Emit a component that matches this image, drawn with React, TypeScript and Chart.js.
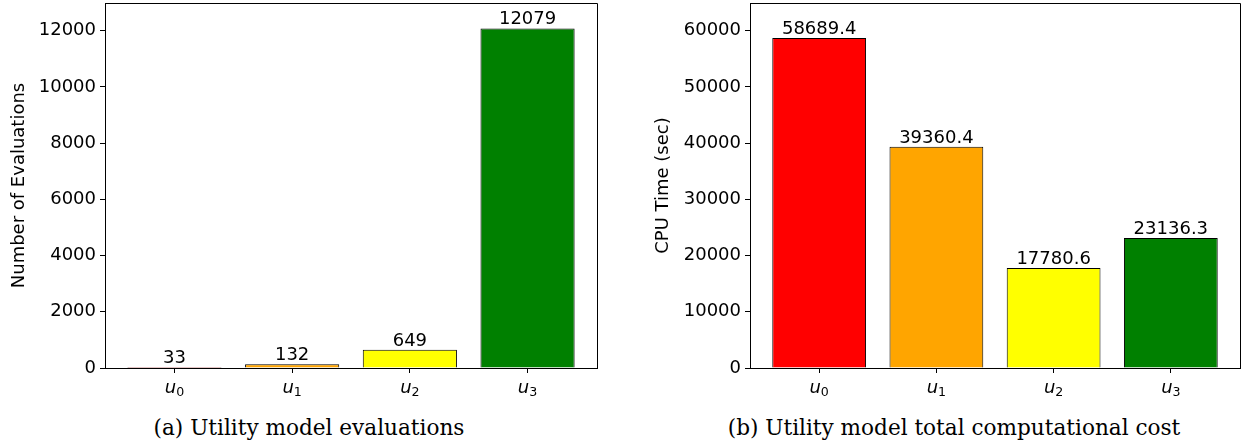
import React, { useEffect, useRef } from 'react';
import { Chart, registerables } from 'chart.js';

Chart.register(...registerables);

const categoryBase = ['u', 'u', 'u', 'u'];
const categorySubscripts = ['0', '1', '2', '3'];
const categoryPositions = [0, 1, 2, 3];
const evaluations = [33, 132, 649, 12079];
const cpuTime = [58689.4, 39360.4, 17780.6, 23136.3];
const barColors = ['#ff0000', '#ffa500', '#ffff00', '#008000'];
const evalTicks = [0, 2000, 4000, 6000, 8000, 10000, 12000];
const cpuTicks = [0, 10000, 20000, 30000, 40000, 50000, 60000];

type BarChartProps = {
  values: number[];
  yTicks: number[];
  yMax: number;
  yTitle: string;
  decimals: number;
  width: number;
  height: number;
  axisWidth: number;
  padRight: number;
  titlePad: number;
};

const FONT = 'DejaVu Sans';

function BarChart(props: BarChartProps) {
  const ref = useRef<HTMLCanvasElement | null>(null);
  useEffect(() => {
    if (!ref.current) return;
    const framePlugin = {
      id: 'frame',
      afterDraw(chart: any) {
        const { ctx, chartArea } = chart;
        ctx.save();
        ctx.strokeStyle = '#000';
        ctx.lineWidth = 1;
        ctx.beginPath();
        ctx.moveTo(chartArea.left, chartArea.top + 0.5);
        ctx.lineTo(Math.round(chartArea.right) + 0.5, chartArea.top + 0.5);
        ctx.lineTo(Math.round(chartArea.right) + 0.5, chartArea.bottom);
        ctx.stroke();
        ctx.restore();
      },
    };
    const xLabelPlugin = {
      id: 'mathLabels',
      afterDraw(chart: any) {
        const { ctx, chartArea } = chart;
        const xs = chart.scales.x;
        ctx.save();
        ctx.fillStyle = '#000';
        ctx.textBaseline = 'alphabetic';
        ctx.textAlign = 'left';
        const baseY = chartArea.bottom + 25;
        categoryPositions.forEach((p, i) => {
          const cx = xs.getPixelForValue(p);
          ctx.font = `italic 18px "${FONT}"`;
          const w1 = ctx.measureText(categoryBase[i]).width;
          ctx.font = `12.6px "${FONT}"`;
          const w2 = ctx.measureText(categorySubscripts[i]).width;
          const x0 = cx - (w1 + w2) / 2;
          ctx.font = `italic 18px "${FONT}"`;
          ctx.fillText(categoryBase[i], x0, baseY);
          ctx.font = `12.6px "${FONT}"`;
          ctx.fillText(categorySubscripts[i], x0 + w1, baseY + 2.5);
        });
        ctx.restore();
      },
    };
    const labelPlugin = {
      id: 'barLabels',
      afterDatasetsDraw(chart: any) {
        const { ctx } = chart;
        const meta = chart.getDatasetMeta(0);
        ctx.save();
        ctx.fillStyle = '#000';
        ctx.font = `18px "${FONT}"`;
        ctx.textAlign = 'center';
        ctx.textBaseline = 'alphabetic';
        meta.data.forEach((bar: any, i: number) => {
          ctx.fillText(props.values[i].toFixed(props.decimals), bar.x, bar.y - 4);
        });
        ctx.restore();
      },
    };
    const chart = new Chart(ref.current, {
      type: 'bar',
      data: {
        datasets: [
          {
            data: props.values.map((v, i) => ({ x: categoryPositions[i], y: v })),
            backgroundColor: barColors,
            borderColor: '#000',
            borderWidth: 1,
            barPercentage: 1,
            categoryPercentage: 0.8,
          },
        ],
      },
      options: {
        responsive: false,
        animation: false,
        events: [],
        layout: { padding: { top: 3, right: props.padRight, bottom: 0, left: 0 } },
        plugins: { legend: { display: false }, tooltip: { enabled: false } },
        scales: {
          x: {
            type: 'linear',
            min: -0.59,
            max: 3.59,
            offset: false,
            afterFit(scale: any) {
              scale.height = props.height - 368;
              scale.paddingLeft = 0;
              scale.paddingRight = 0;
            },
            afterBuildTicks(scale: any) {
              scale.ticks = categoryPositions.map((v) => ({ value: v }));
            },
            grid: {
              offset: false,
              drawOnChartArea: false,
              drawTicks: true,
              tickLength: 5,
              color: '#000',
            },
            border: { display: true, color: '#000', width: 1 },
            ticks: {
              color: '#000',
              padding: 4,
              autoSkip: false,
              maxRotation: 0,
              font: { family: FONT, size: 18 },
              callback: () => '',
            },
          },
          y: {
            type: 'linear',
            min: 0,
            max: props.yMax,
            afterFit(scale: any) {
              scale.width = props.axisWidth;
              scale.paddingTop = 0;
              scale.paddingBottom = 0;
            },
            afterBuildTicks(scale: any) {
              scale.ticks = props.yTicks.map((v) => ({ value: v }));
            },
            grid: {
              drawOnChartArea: false,
              drawTicks: true,
              tickLength: 5,
              color: '#000',
            },
            border: { display: true, color: '#000', width: 1 },
            ticks: {
              color: '#000',
              padding: 4,
              font: { family: FONT, size: 18 },
              callback: (v: any) => String(v),
            },
            title: {
              display: true,
              text: props.yTitle,
              color: '#000',
              font: { family: FONT, size: 18 },
              padding: { top: props.titlePad, bottom: 0 },
            },
          },
        },
      },
      plugins: [framePlugin, labelPlugin, xLabelPlugin],
    } as any);
    return () => chart.destroy();
  }, []);
  return <canvas ref={ref} width={props.width} height={props.height} style={{ display: 'block' }} />;
}

const captionStyle: React.CSSProperties = {
  position: 'absolute',
  width: 600,
  textAlign: 'center',
  fontFamily: '"DejaVu Serif", serif',
  fontSize: 21.6,
  lineHeight: '24px',
  color: '#000',
  whiteSpace: 'nowrap',
};

export default function App() {
  return (
    <div style={{ position: 'absolute', left: 0, top: 0, width: 1244, height: 446, background: '#fff' }}>
      <div style={{ position: 'absolute', left: 0, top: 0 }}>
        <BarChart
          values={evaluations}
          yTicks={evalTicks}
          yMax={12984}
          yTitle="Number of Evaluations"
          decimals={0}
          width={620}
          height={400}
          axisWidth={105}
          padRight={23}
          titlePad={9}
        />
      </div>
      <div style={{ position: 'absolute', left: 620, top: 0 }}>
        <BarChart
          values={cpuTime}
          yTicks={cpuTicks}
          yMax={64920}
          yTitle="CPU Time (sec)"
          decimals={1}
          width={624}
          height={400}
          axisWidth={130}
          padRight={4}
          titlePad={33}
        />
      </div>
      <div style={{ ...captionStyle, left: 309 - 300, top: 416 }}>(a) Utility model evaluations</div>
      <div style={{ ...captionStyle, left: 954 - 300, top: 416 }}>(b) Utility model total computational cost</div>
    </div>
  );
}
